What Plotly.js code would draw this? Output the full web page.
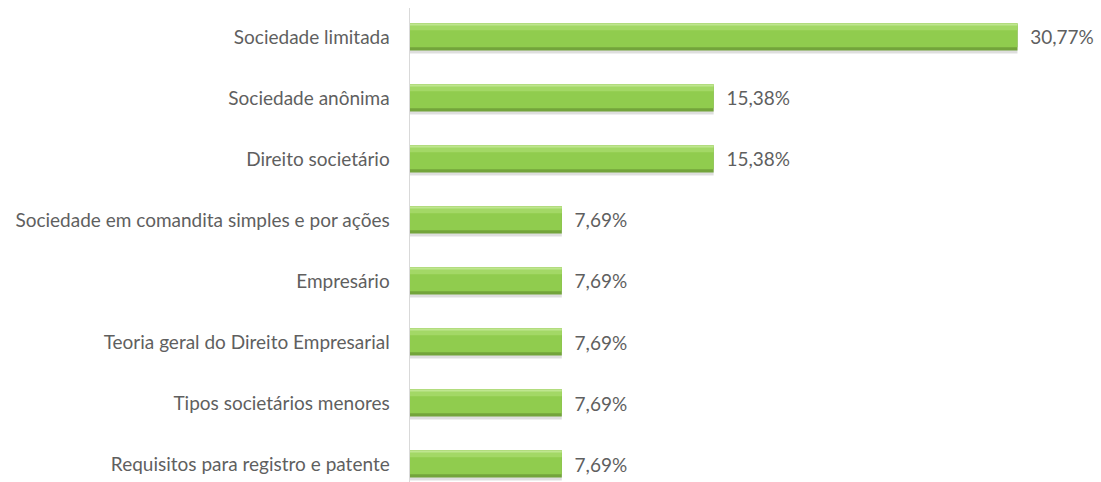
<!DOCTYPE html>
<html><head><meta charset="utf-8">
<script src="https://cdn.plot.ly/plotly-3.0.1.min.js"></script>
<style>html,body{margin:0;padding:0;background:#fff;}#chart{width:1101px;height:482px;}</style>
</head><body><div id="chart"></div>
<script>
const categories = [
  "Sociedade limitada",
  "Sociedade anônima",
  "Direito societário",
  "Sociedade em comandita simples e por ações",
  "Empresário",
  "Teoria geral do Direito Empresarial",
  "Tipos societários menores",
  "Requisitos para registro e patente"
];
const values = [30.77, 15.38, 15.38, 7.69, 7.69, 7.69, 7.69, 7.69];
const labels = values.map(v => "  " + v.toFixed(2).replace('.', ',') + "%");

const font = {family: "Lato, 'Open Sans', sans-serif", size: 19, color: "#5f5f5f"};
const idx = categories.map((c, i) => i);
const W = 0.44;

const traces = [
  // soft shadow
  {type:'bar', orientation:'h', y: idx.map(i=>i+0.05), x: values, width: W,
   marker:{color:'rgba(0,0,0,0.13)'}, hoverinfo:'skip', showlegend:false},
  // dark bottom edge
  {type:'bar', orientation:'h', y: idx, x: values, width: W,
   marker:{color:'#73a43b'}, hoverinfo:'skip', showlegend:false},
  // main body
  {type:'bar', orientation:'h', y: idx.map(i=>i-0.025), x: values, width: W-0.05,
   marker:{color:'#90cc4e'}, hoverinfo:'skip', showlegend:false},
  // top highlight
  {type:'bar', orientation:'h', y: idx.map(i=>i-0.165), x: values, width: 0.11,
   marker:{color:'#a3d866'}, hoverinfo:'skip', showlegend:false},
  // top edge
  {type:'bar', orientation:'h', y: idx.map(i=>i-0.205), x: values, width: 0.03,
   marker:{color:'#bfe68f'}, hoverinfo:'skip', showlegend:false},
  // text
  {type:'bar', orientation:'h', y: idx, x: values, width: W,
   marker:{color:'rgba(0,0,0,0)'}, text: labels, textposition:'outside',
   textfont: font, cliponaxis:false, hoverinfo:'skip', showlegend:false}
];

const layout = {
  width: 1101, height: 482,
  margin: {l: 410, r: 0, t: 8, b: 0},
  paper_bgcolor: '#fff', plot_bgcolor: '#fff',
  barmode: 'overlay',
  font: font,
  xaxis: {range: [0, 35], showgrid: false, zeroline: false, showticklabels: false, showline: false, ticks: ''},
  yaxis: {range: [7.295, -0.475], tickmode: 'array', tickvals: idx, ticktext: categories,
          showgrid: false, zeroline: false, showline: true, linecolor: '#d9d9d9', linewidth: 1.5,
          ticks: '', ticklabelstandoff: 15, tickfont: font},
  showlegend: false
};
Plotly.newPlot('chart', traces, layout, {displayModeBar: false, staticPlot: true});
</script></body></html>
